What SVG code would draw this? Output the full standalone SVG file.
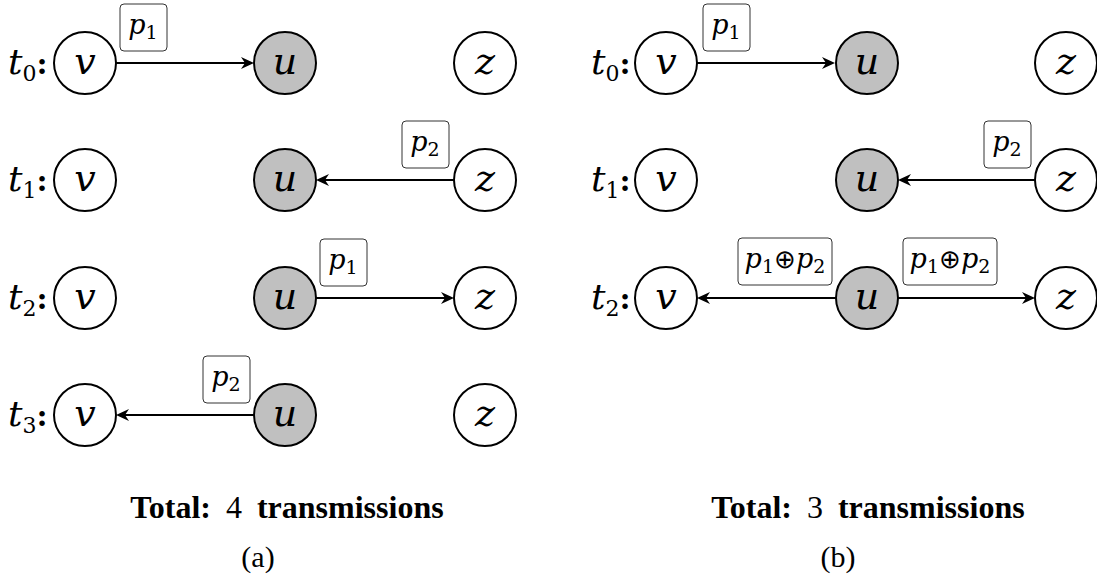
<svg xmlns="http://www.w3.org/2000/svg" width="1097" height="581" viewBox="0 0 1097 581">
<style>
.n{fill:#fff;stroke:#000;stroke-width:2}
.g{fill:#c0c0c0;stroke:#000;stroke-width:2}
.m{font-family:"DejaVu Serif",serif;font-style:italic;font-size:38px;text-anchor:middle}
.bx{fill:#fff;stroke:#333;stroke-width:1}
.bl{font-family:"DejaVu Serif",serif;font-size:27px;text-anchor:middle}
.sub{font-style:normal;font-size:19px}
.op{font-family:"DejaVu Sans",sans-serif;font-size:26px;font-weight:200}
.e{stroke:#000;stroke-width:2;fill:none;marker-end:url(#ah)}
.tl{font-family:"DejaVu Serif",serif;font-size:36px}
.tot{font-family:"Liberation Serif",serif;font-size:32px;text-anchor:middle}
.cap{font-family:"Liberation Serif",serif;font-size:30px;text-anchor:middle}
</style>
<defs>
<marker id="ah" markerUnits="userSpaceOnUse" markerWidth="20" markerHeight="20" viewBox="-10 -10 20 20" refX="0" refY="0" orient="auto">
<path d="M 6 0 L -7 -6 L -3 0 L -7 6 Z" fill="#000"/>
</marker>
</defs>

<!-- row labels -->
<g id="labels">
<text class="tl" x="8" y="74"><tspan font-style="italic">t</tspan><tspan font-size="22" dy="7">0</tspan><tspan dy="-7" font-weight="bold" font-size="30">:</tspan></text>
<text class="tl" x="8" y="191"><tspan font-style="italic">t</tspan><tspan font-size="22" dy="7">1</tspan><tspan dy="-7" font-weight="bold" font-size="30">:</tspan></text>
<text class="tl" x="8" y="309"><tspan font-style="italic">t</tspan><tspan font-size="22" dy="7">2</tspan><tspan dy="-7" font-weight="bold" font-size="30">:</tspan></text>
<text class="tl" x="8" y="426"><tspan font-style="italic">t</tspan><tspan font-size="22" dy="7">3</tspan><tspan dy="-7" font-weight="bold" font-size="30">:</tspan></text>
<text class="tl" x="591" y="74"><tspan font-style="italic">t</tspan><tspan font-size="22" dy="7">0</tspan><tspan dy="-7" font-weight="bold" font-size="30">:</tspan></text>
<text class="tl" x="591" y="191"><tspan font-style="italic">t</tspan><tspan font-size="22" dy="7">1</tspan><tspan dy="-7" font-weight="bold" font-size="30">:</tspan></text>
<text class="tl" x="591" y="309"><tspan font-style="italic">t</tspan><tspan font-size="22" dy="7">2</tspan><tspan dy="-7" font-weight="bold" font-size="30">:</tspan></text>
</g>

<!-- connectors -->
<g id="connectors">
<line class="e" x1="116" y1="63" x2="248" y2="63"/>
<line class="e" x1="454" y1="180" x2="322" y2="180"/>
<line class="e" x1="316" y1="298" x2="448" y2="298"/>
<line class="e" x1="254" y1="415" x2="122" y2="415"/>
<line class="e" x1="697" y1="63" x2="829" y2="63"/>
<line class="e" x1="1035" y1="180" x2="904" y2="180"/>
<line class="e" x1="836" y1="298" x2="703" y2="298"/>
<line class="e" x1="898" y1="298" x2="1029" y2="298"/>
</g>

<!-- edge labels -->
<g id="edge-labels">
<g id="lbl-a0"><rect class="bx" x="120" y="4" width="47" height="47" rx="4"/><text class="bl" x="143" y="34"><tspan font-style="italic">p</tspan><tspan class="sub" dy="5">1</tspan></text></g>
<g id="lbl-a1"><rect class="bx" x="402" y="121" width="47" height="47" rx="4"/><text class="bl" x="425" y="151"><tspan font-style="italic">p</tspan><tspan class="sub" dy="5">2</tspan></text></g>
<g id="lbl-a2"><rect class="bx" x="320" y="239" width="47" height="47" rx="4"/><text class="bl" x="343" y="269"><tspan font-style="italic">p</tspan><tspan class="sub" dy="5">1</tspan></text></g>
<g id="lbl-a3"><rect class="bx" x="203" y="356" width="47" height="47" rx="4"/><text class="bl" x="226" y="386"><tspan font-style="italic">p</tspan><tspan class="sub" dy="5">2</tspan></text></g>
<g id="lbl-b0"><rect class="bx" x="703" y="4" width="47" height="47" rx="4"/><text class="bl" x="726" y="34"><tspan font-style="italic">p</tspan><tspan class="sub" dy="5">1</tspan></text></g>
<g id="lbl-b1"><rect class="bx" x="984" y="121" width="47" height="47" rx="4"/><text class="bl" x="1007" y="151"><tspan font-style="italic">p</tspan><tspan class="sub" dy="5">2</tspan></text></g>
<g id="lbl-b2l"><rect class="bx" x="738" y="238" width="94" height="47" rx="4"/><text class="bl" x="785" y="268"><tspan font-style="italic">p</tspan><tspan class="sub" dy="5">1</tspan><tspan class="op" dy="-5">⊕</tspan><tspan font-style="italic">p</tspan><tspan class="sub" dy="5">2</tspan></text></g>
<g id="lbl-b2r"><rect class="bx" x="903" y="238" width="94" height="47" rx="4"/><text class="bl" x="950" y="268"><tspan font-style="italic">p</tspan><tspan class="sub" dy="5">1</tspan><tspan class="op" dy="-5">⊕</tspan><tspan font-style="italic">p</tspan><tspan class="sub" dy="5">2</tspan></text></g>
</g>

<!-- nodes panel (a) -->
<g id="a-t0-v"><circle class="n" cx="85" cy="63" r="31"/><text class="m" x="85" y="74">v</text></g>
<g id="a-t0-u"><circle class="g" cx="285" cy="63" r="31"/><text class="m" x="285" y="74">u</text></g>
<g id="a-t0-z"><circle class="n" cx="485" cy="63" r="31"/><text class="m" x="485" y="74">z</text></g>
<g id="a-t1-v"><circle class="n" cx="85" cy="180" r="31"/><text class="m" x="85" y="191">v</text></g>
<g id="a-t1-u"><circle class="g" cx="285" cy="180" r="31"/><text class="m" x="285" y="191">u</text></g>
<g id="a-t1-z"><circle class="n" cx="485" cy="180" r="31"/><text class="m" x="485" y="191">z</text></g>
<g id="a-t2-v"><circle class="n" cx="85" cy="298" r="31"/><text class="m" x="85" y="309">v</text></g>
<g id="a-t2-u"><circle class="g" cx="285" cy="298" r="31"/><text class="m" x="285" y="309">u</text></g>
<g id="a-t2-z"><circle class="n" cx="485" cy="298" r="31"/><text class="m" x="485" y="309">z</text></g>
<g id="a-t3-v"><circle class="n" cx="85" cy="415" r="31"/><text class="m" x="85" y="426">v</text></g>
<g id="a-t3-u"><circle class="g" cx="285" cy="415" r="31"/><text class="m" x="285" y="426">u</text></g>
<g id="a-t3-z"><circle class="n" cx="485" cy="415" r="31"/><text class="m" x="485" y="426">z</text></g>

<!-- nodes panel (b) -->
<g id="b-t0-v"><circle class="n" cx="666" cy="63" r="31"/><text class="m" x="666" y="74">v</text></g>
<g id="b-t0-u"><circle class="g" cx="867" cy="63" r="31"/><text class="m" x="867" y="74">u</text></g>
<g id="b-t0-z"><circle class="n" cx="1066" cy="63" r="31"/><text class="m" x="1066" y="74">z</text></g>
<g id="b-t1-v"><circle class="n" cx="666" cy="180" r="31"/><text class="m" x="666" y="191">v</text></g>
<g id="b-t1-u"><circle class="g" cx="867" cy="180" r="31"/><text class="m" x="867" y="191">u</text></g>
<g id="b-t1-z"><circle class="n" cx="1066" cy="180" r="31"/><text class="m" x="1066" y="191">z</text></g>
<g id="b-t2-v"><circle class="n" cx="666" cy="298" r="31"/><text class="m" x="666" y="309">v</text></g>
<g id="b-t2-u"><circle class="g" cx="867" cy="298" r="31"/><text class="m" x="867" y="309">u</text></g>
<g id="b-t2-z"><circle class="n" cx="1066" cy="298" r="31"/><text class="m" x="1066" y="309">z</text></g>

<!-- captions -->
<g id="captions">
<text class="tot" x="287" y="518"><tspan font-weight="bold">Total:</tspan><tspan dx="15">4</tspan><tspan dx="15" font-weight="bold">transmissions</tspan></text>
<text class="cap" x="258" y="567">(a)</text>
<text class="tot" x="868" y="518"><tspan font-weight="bold">Total:</tspan><tspan dx="15">3</tspan><tspan dx="15" font-weight="bold">transmissions</tspan></text>
<text class="cap" x="838" y="567">(b)</text>
</g>
</svg>
